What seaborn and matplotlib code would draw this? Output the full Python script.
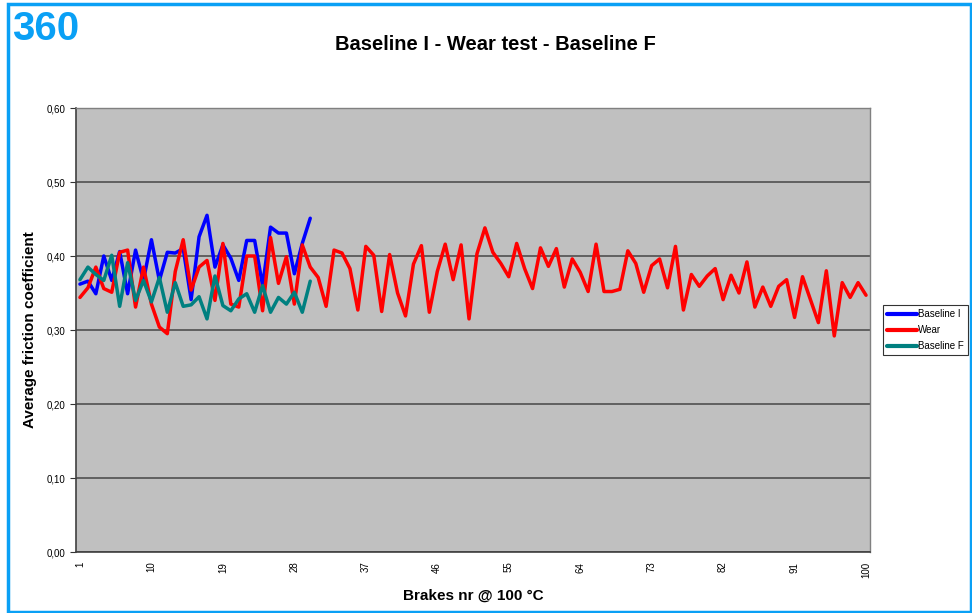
import matplotlib
matplotlib.use("Agg")
import matplotlib.pyplot as plt
import seaborn as sns
import pandas as pd
import numpy as np
from matplotlib.ticker import FixedLocator, FuncFormatter
from matplotlib.patches import Rectangle

baseline_i = [0.362, 0.366, 0.349, 0.400, 0.367, 0.406, 0.349, 0.408, 0.367, 0.422,
              0.367, 0.405, 0.404, 0.410, 0.341, 0.426, 0.455, 0.385, 0.415, 0.397,
              0.367, 0.421, 0.421, 0.360, 0.439, 0.431, 0.431, 0.376, 0.417, 0.451]
wear = [0.344, 0.357, 0.385, 0.356, 0.351, 0.405, 0.408, 0.331, 0.385, 0.335,
        0.304, 0.295, 0.379, 0.422, 0.354, 0.385, 0.394, 0.340, 0.417, 0.335,
        0.331, 0.400, 0.400, 0.326, 0.425, 0.363, 0.399, 0.335, 0.415, 0.385,
        0.371, 0.332, 0.408, 0.404, 0.383, 0.327, 0.413, 0.401, 0.325, 0.402,
        0.350, 0.319, 0.389, 0.414, 0.324, 0.379, 0.416, 0.368, 0.415, 0.315,
        0.403, 0.438, 0.405, 0.390, 0.372, 0.417, 0.383, 0.356, 0.411, 0.386,
        0.410, 0.358, 0.396, 0.378, 0.352, 0.416, 0.352, 0.352, 0.355, 0.407,
        0.390, 0.351, 0.387, 0.396, 0.357, 0.413, 0.327, 0.375, 0.359, 0.373,
        0.383, 0.341, 0.374, 0.350, 0.392, 0.331, 0.358, 0.332, 0.359, 0.368,
        0.317, 0.372, 0.341, 0.310, 0.380, 0.292, 0.364, 0.344, 0.364, 0.347]
baseline_f = [0.368, 0.385, 0.375, 0.367, 0.401, 0.332, 0.391, 0.340, 0.367, 0.338,
              0.371, 0.324, 0.364, 0.332, 0.334, 0.345, 0.315, 0.373, 0.333, 0.326,
              0.342, 0.349, 0.324, 0.360, 0.324, 0.344, 0.335, 0.351, 0.324, 0.366]
series_names = ["Baseline I", "Wear", "Baseline F"]
series_colors = ["#0000FF", "#FF0000", "#008080"]
x_labels = list(range(1, 101, 9))
y_ticks = [0.0, 0.1, 0.2, 0.3, 0.4, 0.5, 0.6]

frames = []
for name, vals in zip(series_names, [baseline_i, wear, baseline_f]):
    frames.append(pd.DataFrame({"brake": np.arange(1, len(vals) + 1),
                                "value": vals, "series": name}))
df = pd.concat(frames, ignore_index=True)

sns.set_theme(style="white")
plt.rcParams['font.family'] = ['Liberation Sans', 'DejaVu Sans']
plt.rcParams['text.color'] = 'black'
plt.rcParams['axes.labelcolor'] = 'black'
plt.rcParams['xtick.color'] = 'black'
plt.rcParams['ytick.color'] = 'black'

fig = plt.figure(figsize=(9.72, 6.13), dpi=100)
ax = fig.add_axes([76/972, 1-552/613, (870-76)/972, (552-108)/613])
ax.set_facecolor("#C0C0C0")

sns.lineplot(data=df, x="brake", y="value", hue="series", hue_order=series_names,
             palette=series_colors, linewidth=2.5, ax=ax, legend=True)

ax.set_xlim(0.5, 100.5)
ax.set_ylim(0, 0.6)
ax.yaxis.set_major_locator(FixedLocator(y_ticks))
ax.yaxis.set_major_formatter(FuncFormatter(lambda v, p: f"{v:.2f}".replace(".", ",")))
ax.grid(axis="y", color="#505050", linewidth=1.2)
ax.set_axisbelow(True)

ax.xaxis.set_major_locator(FixedLocator(x_labels))
ax.xaxis.set_minor_locator(FixedLocator(np.arange(0.5, 101, 1)))
ax.tick_params(axis="x", which="major", length=0, labelsize=7, rotation=90, pad=7)
ax.tick_params(axis="x", which="minor", length=4, width=0.8, color="#333333", direction="inout")
ax.tick_params(axis="y", which="major", length=4, width=0.8, color="#333333", labelsize=7, direction="out", left=True)
for lab in ax.get_xticklabels():
    lab.set_verticalalignment("top")

for s in ["left", "bottom"]:
    ax.spines[s].set_color("#404040")
    ax.spines[s].set_linewidth(1.2)
for s in ["top", "right"]:
    ax.spines[s].set_color("#808080")
    ax.spines[s].set_linewidth(1.0)

ax.set_xlabel("Brakes nr @ 100 °C", fontsize=11, fontweight="bold", labelpad=8)
ax.set_ylabel("Average friction coefficient", fontsize=11, fontweight="bold", labelpad=7)

leg = ax.legend(loc="upper left", bbox_to_anchor=(883/972, 1-305/613),
                bbox_transform=fig.transFigure, fontsize=7, frameon=True,
                fancybox=False, edgecolor="black", handlelength=3.0,
                handletextpad=0.1, borderpad=0.45, labelspacing=0.6,
                borderaxespad=0)
leg.get_frame().set_linewidth(0.8)
for line in leg.get_lines():
    line.set_linewidth(3)
for t in leg.get_texts():
    t.set_color("black")

fig.text(495/972, 1-44/613, "Baseline I - Wear test - Baseline F", ha="center",
         va="center", fontsize=14.5, fontweight="bold", color="black")
fig.text(12/972, 1-29/613, "360", ha="left", va="center", fontsize=29,
         fontweight="bold", color="#0AA0F5",
         family=['Liberation Sans', 'DejaVu Sans'])

fig.patches.append(Rectangle((8/972, 1/613), (971-8)/972, (608)/613,
                             transform=fig.transFigure, fill=False,
                             edgecolor="#0AA0F5", linewidth=2.5))

fig.savefig("out.png", dpi=100)
